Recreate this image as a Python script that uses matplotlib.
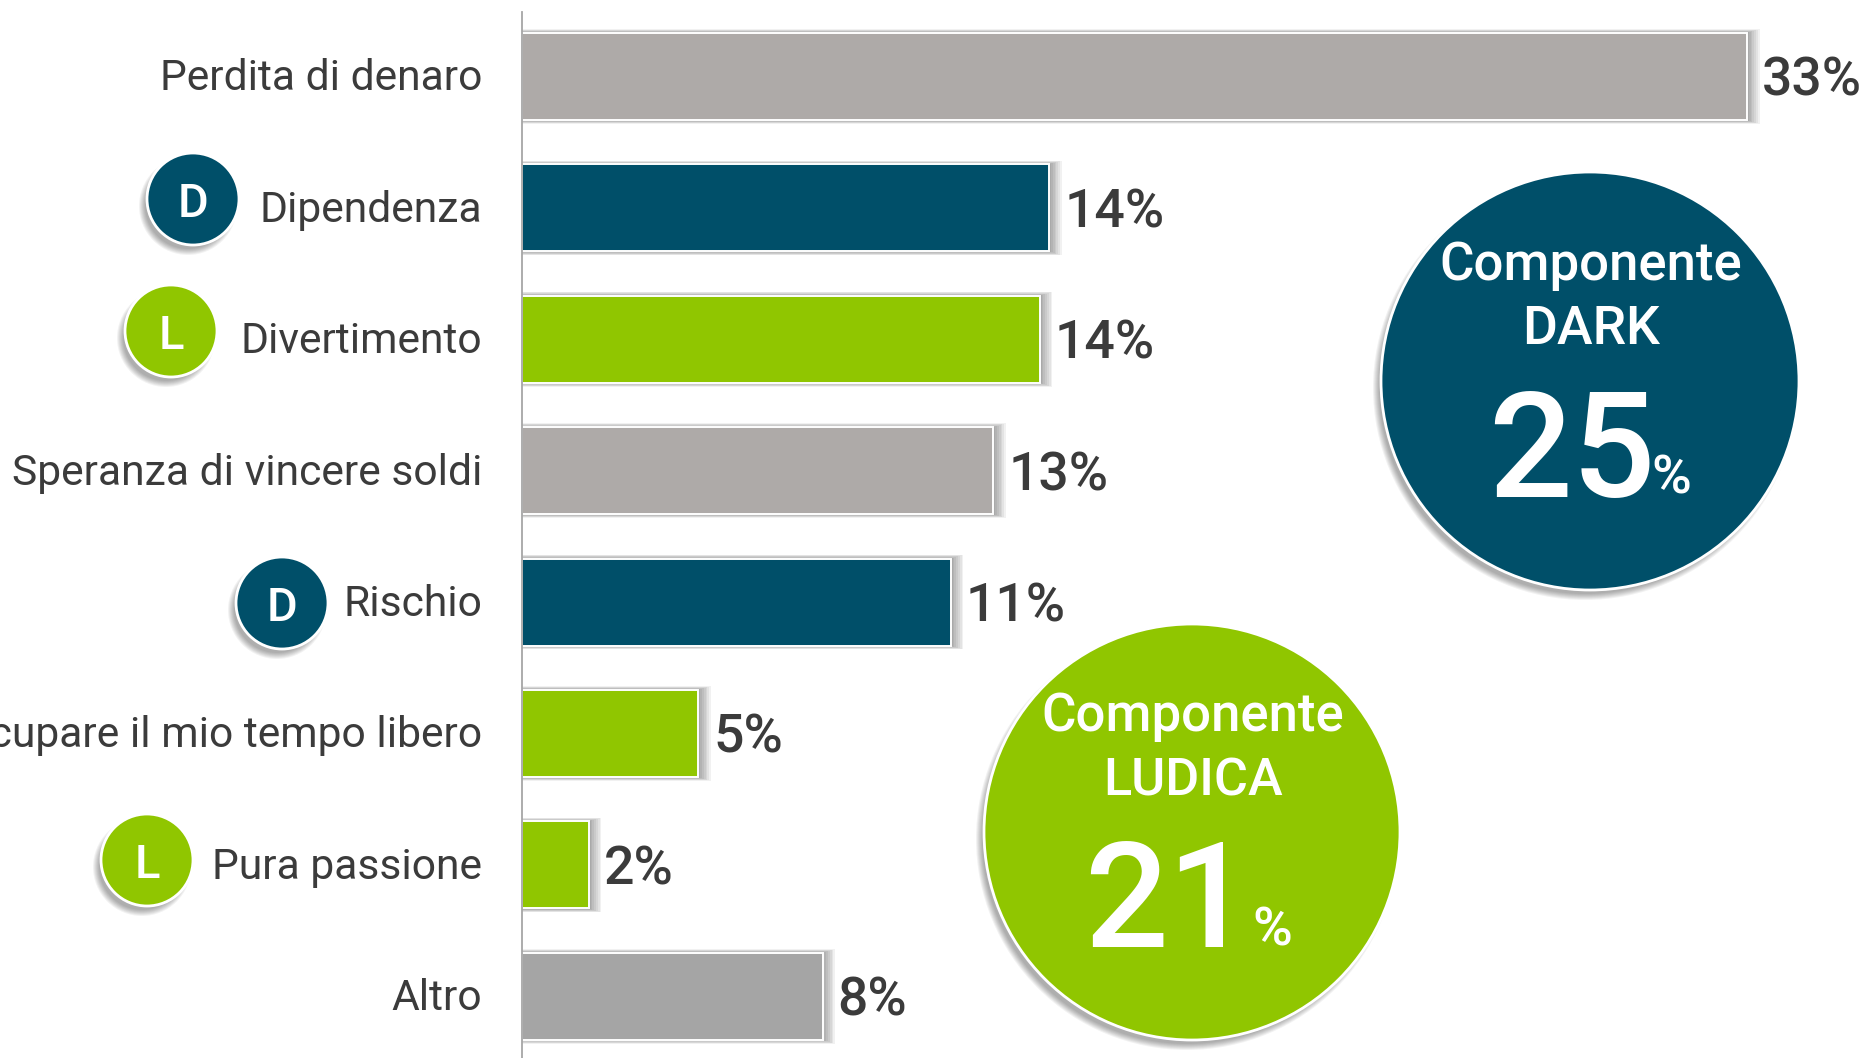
import matplotlib
matplotlib.use("Agg")
import matplotlib.pyplot as plt
from matplotlib.patches import Circle
from matplotlib.transforms import ScaledTranslation

plt.rcParams['font.family'] = ['Roboto', 'DejaVu Sans']

# Data
categories = ["Perdita di denaro", "Dipendenza", "Divertimento", "Speranza di vincere soldi",
              "Rischio", "Occupare il mio tempo libero", "Pura passione", "Altro"]
values = [33.0, 14.2, 13.95, 12.7, 11.55, 4.75, 1.8, 8.1]
value_labels = ["33%", "14%", "14%", "13%", "11%", "5%", "2%", "8%"]
kinds = ["neutral", "dark", "ludic", "neutral", "dark", "ludic", "ludic", "other"]
badges = ["", "D", "L", "", "D", "", "L", ""]
summary_titles = ["DARK", "LUDICA"]
summary_values = ["25", "21"]

DARK = "#004F69"
GREEN = "#90C600"
TEXT = "#3B3B3B"
kind_colors = {"neutral": "#AEAAA8", "dark": DARK, "ludic": GREEN, "other": "#A5A5A5"}

W, H = 1864, 1058
AXIS_X, AXIS_TOP = 522, 12
PX_PER_UNIT = 1225 / 33.0
PITCH = 131.4
FIRST_Y = 76.5
BAR_PX = 87

fig = plt.figure(figsize=(W / 100, H / 100), dpi=100, facecolor="white")

# Bars, on real axes
ax = fig.add_axes([AXIS_X / W, 0, 1 - AXIS_X / W, 1 - AXIS_TOP / H])
ax.set_xlim(0, (W - AXIS_X) / PX_PER_UNIT)
ax.set_ylim((H - FIRST_Y) / PITCH, (AXIS_TOP - FIRST_Y) / PITCH)
ax.patch.set_alpha(0)
for s in ["top", "right", "bottom"]:
    ax.spines[s].set_visible(False)
ax.spines["left"].set_color("#A6A6A6")
ax.spines["left"].set_linewidth(1.3)
ax.spines["left"].set_zorder(5)
ax.set_xticks([])

ypos = list(range(len(categories)))
bar_h = BAR_PX / PITCH

# soft shadow, a stack of faint bars, darker next to the bar
for k in range(1, 8):
    ax.barh(ypos, [v + (1.8 * k) / PX_PER_UNIT for v in values],
            height=bar_h + (1.1 * k) / PITCH, color="black", alpha=0.055, linewidth=0, zorder=1)

ax.barh(ypos, values, height=bar_h, color=[kind_colors[k] for k in kinds],
        edgecolor="white", linewidth=1.4, zorder=2)

ax.set_yticks(ypos)
ax.set_yticklabels(categories, fontsize=30.7, color=TEXT)
ax.tick_params(axis="y", length=0, pad=39.5 * 0.72)
for lab in ax.get_yticklabels():
    lab.set_transform(lab.get_transform() + ScaledTranslation(0, 2 / 100, fig.dpi_scale_trans))

for y, v, lab in zip(ypos, values, value_labels):
    ax.annotate(lab, (v, y), xytext=(15, -5), textcoords="offset pixels", ha="left", va="center",
                fontsize=38.5, fontweight="medium", color=TEXT, zorder=3)

# Overlay in pixels for the round badges
over = fig.add_axes([0, 0, 1, 1])
over.set_xlim(0, W)
over.set_ylim(H, 0)
over.axis("off")
over.patch.set_alpha(0)


def round_badge(cx, cy, r, color, off=(-5, 7), steps=7):
    for k in range(steps):
        over.add_patch(Circle((cx + off[0], cy + off[1]), r + 3 - k, color="black", alpha=0.05, lw=0))
    over.add_patch(Circle((cx, cy), r, facecolor=color, edgecolor="white", linewidth=2))


badge_centres = {1: (193, 199), 2: (171, 331), 4: (282, 603), 6: (147, 860)}
for i, letter in enumerate(badges):
    if letter:
        cx, cy = badge_centres[i]
        round_badge(cx, cy, 46, DARK if letter == "D" else GREEN)
        over.text(cx, cy + 18, letter, color="white", fontsize=34, fontweight="medium",
                  ha="center", va="baseline")

# Big summary circles
round_badge(1590, 381, 209, DARK)
over.text(1591, 280, "Componente", color="white", fontsize=38, fontweight="medium", ha="center", va="baseline")
over.text(1591, 344, summary_titles[0], color="white", fontsize=38.5, fontweight="medium", ha="center", va="baseline")
over.text(1655, 497, summary_values[0], color="white", fontsize=106, fontweight="medium", ha="right", va="baseline")
over.text(1651, 494, "%", color="white", fontsize=39, fontweight="medium", ha="left", va="baseline")

round_badge(1192, 832, 208, GREEN)
over.text(1193, 731, "Componente", color="white", fontsize=38, fontweight="medium", ha="center", va="baseline")
over.text(1193, 795, summary_titles[1], color="white", fontsize=37.5, fontweight="medium", ha="center", va="baseline")
over.text(1252, 947, summary_values[1], color="white", fontsize=106, fontweight="medium", ha="right", va="baseline")
over.text(1252, 945, "%", color="white", fontsize=39, fontweight="medium", ha="left", va="baseline")

fig.savefig("out.png", dpi=100)
